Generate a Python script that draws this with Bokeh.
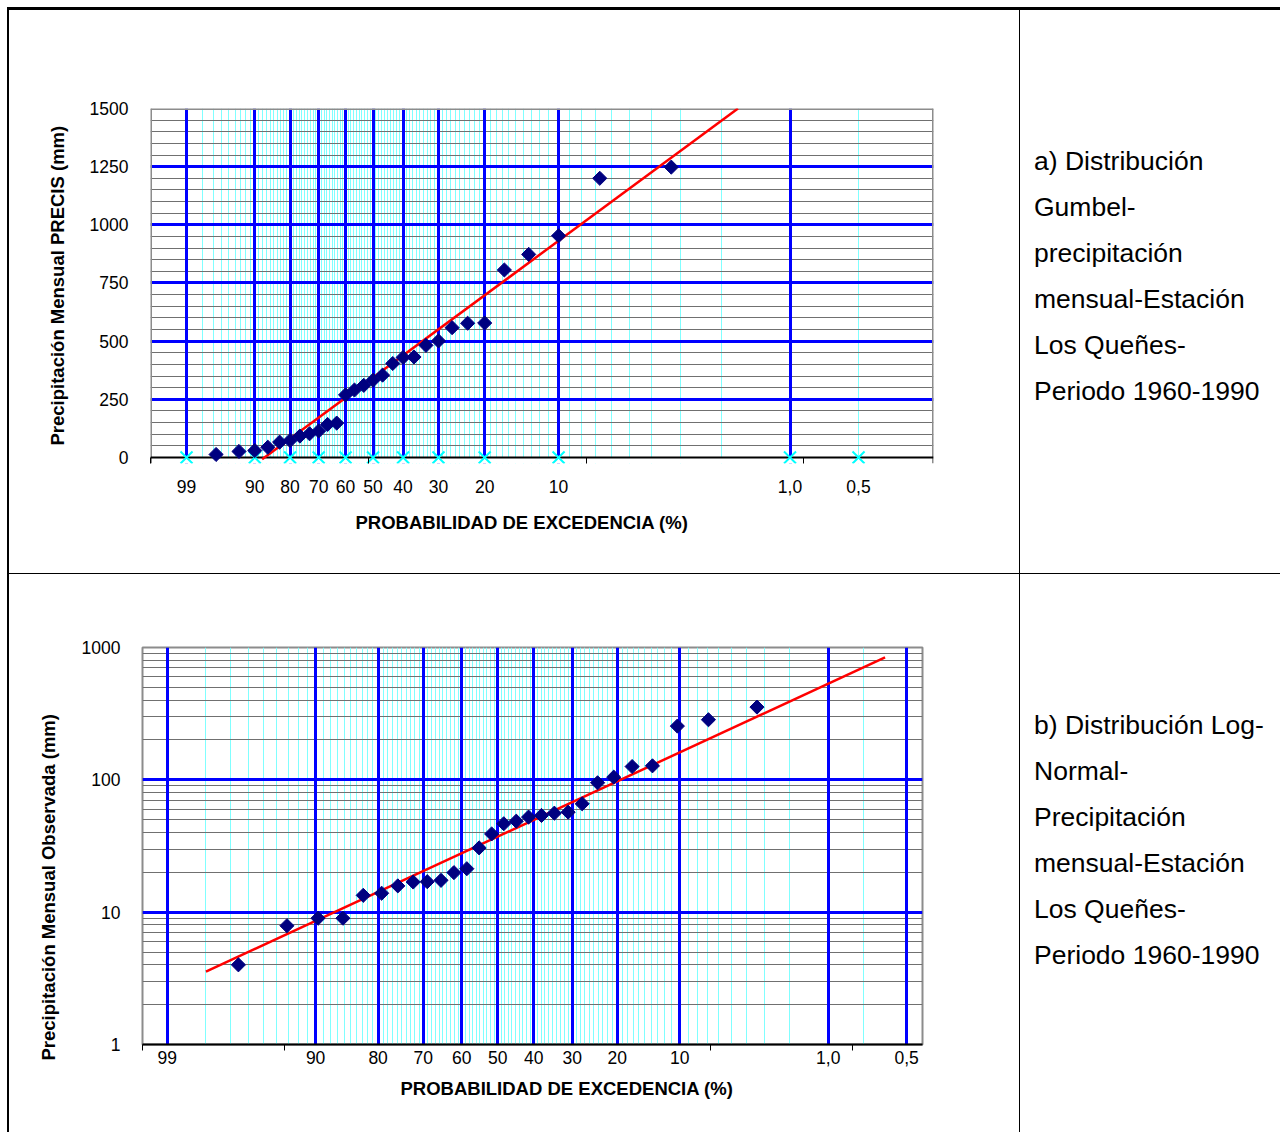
import math
from statistics import NormalDist
from bokeh.plotting import figure
from bokeh.models import (Range1d, FixedTicker, Grid, Title, Span, BoxAnnotation,
                          Div, NumeralTickFormatter)
from bokeh.layouts import row, column
from bokeh.embed import file_html
from bokeh.resources import INLINE

# ---------------- data: a) Gumbel - PRECIS monthly precipitation ----------------
exc_a = [96.7, 93.3, 90.0, 86.7, 83.3, 80.0, 76.7, 73.3, 70.0, 66.7, 63.3, 60.0,
         56.7, 53.3, 50.0, 46.7, 43.3, 40.0, 36.7, 33.3, 30.0, 26.7, 23.3, 20.0,
         16.7, 13.3, 10.0, 6.7, 3.3]
precip_a = [13, 26, 30, 44, 66, 73, 92, 102, 114, 142, 148, 269, 290, 310, 332,
            354, 404, 430, 432, 482, 501, 558, 577, 578, 806, 873, 953, 1200, 1248]
fit_a_exc = [88.2, 1.69]
fit_a_val = [-8, 1500]

# ---------------- data: b) Log-Normal - observed monthly precipitation ----------
exc_b = [96.6, 93.1, 89.7, 86.2, 82.8, 79.3, 75.9, 72.4, 69.0, 65.5, 62.1, 58.6,
         55.2, 51.7, 48.3, 44.8, 41.4, 37.9, 34.5, 31.0, 27.6, 24.1, 20.7, 17.2,
         13.8, 10.3, 6.9, 3.4]
precip_b = [4.0, 7.9, 9.0, 9.0, 13.4, 13.9, 15.8, 16.9, 17.0, 17.4, 19.9, 21.3,
            30.6, 39.0, 46.6, 48.7, 52.3, 53.8, 56.0, 57.0, 65.9, 95.0, 104.8,
            126.0, 127.6, 254.7, 284.6, 354.6]
fit_b_exc = [98.0, 0.32]
fit_b_val = [3.56, 841]

# ---------------- probability paper (axis labels / grid) ----------------
label_txt = ["99", "90", "80", "70", "60", "50", "40", "30", "20", "10", "1,0", "0,5"]
label_exc_a = [99, 90, 80, 70, 60, 50, 40, 30, 20, 10, 1.0, 0.5]
blue_exc_a = [99, 90, 80, 70, 60, 50, 40, 30, 20, 10, 1.0]
label_exc_b = [99, 90, 80, 70, 60, 50, 40, 30, 20, 10, 1.0, 0.2]
blue_exc_b = label_exc_b
cyan_exc = [p for p in range(2, 99) if p % 10] + [0.5]

yticks_a = [0, 250, 500, 750, 1000, 1250, 1500]
yblue_a = [250, 500, 750, 1000, 1250]
ygray_a = [v for v in range(50, 1500, 50) if v % 250]
yticks_b = [1, 10, 100, 1000]
yblue_b = [10, 100]
ygray_b = [k * 10 ** d for d in range(3) for k in range(2, 10)]

xtitle = "PROBABILIDAD DE EXCEDENCIA (%)"
ytitle_a = "Precipitación Mensual PRECIS (mm)"
ytitle_b = "Precipitación Mensual Observada (mm)"
text_a = ["a) Distribución", "Gumbel-", "precipitación", "mensual-Estación",
          "Los Queñes-", "Periodo 1960-1990"]
text_b = ["b) Distribución Log-", "Normal-", "Precipitación", "mensual-Estación",
          "Los Queñes-", "Periodo 1960-1990"]


def gumbel(p):
    return -math.log(-math.log(1 - p / 100.0))


ND = NormalDist()


def normq(p):
    return ND.inv_cdf(1 - p / 100.0)


FONT = "Liberation Sans"
BLUE = "#0000ff"
CYAN = "#80ffff"
GRAY = "#707070"
BORDER = "#8c8c8c"


def add_grid(p, dim, ticks, color, width):
    p.add_layout(Grid(dimension=dim, ticker=FixedTicker(ticks=ticks),
                      grid_line_color=color, grid_line_width=width))


def style(p, xpos, xtxt, xminor, yt, xstand):
    p.background_fill_color = "white"
    p.border_fill_color = "white"
    p.outline_line_color = BORDER
    p.outline_line_width = 2
    p.xgrid.grid_line_color = None
    p.ygrid.grid_line_color = None
    xa = p.xaxis[0]
    xa.ticker = FixedTicker(ticks=xpos, minor_ticks=xminor)
    xa.major_label_overrides = dict(zip(xpos, xtxt))
    xa.major_tick_out = 0
    xa.major_tick_in = 0
    xa.minor_tick_out = 6
    xa.minor_tick_in = 0
    xa.minor_tick_line_color = "#000000"
    xa.axis_line_color = "#000000"
    xa.axis_line_width = 2
    xa.major_label_standoff = xstand
    xa.major_label_text_font = FONT
    xa.major_label_text_font_size = "17.5px"
    xa.major_label_text_color = "#000000"
    ya = p.yaxis[0]
    ya.ticker = FixedTicker(ticks=yt)
    ya.formatter = NumeralTickFormatter(format="0")
    ya.major_tick_out = 0
    ya.major_tick_in = 0
    ya.minor_tick_line_color = None
    ya.axis_line_color = None
    ya.major_label_standoff = 22
    ya.major_label_text_font = FONT
    ya.major_label_text_font_size = "17.5px"
    ya.major_label_text_color = "#000000"


def side_title(p, text, side, offset, standoff, valign):
    p.add_layout(Title(text=text, align="left", offset=offset, standoff=standoff,
                       vertical_align=valign, text_font=FONT, text_font_size="18.5px",
                       text_font_style="bold", text_color="#000000"), side)


# ---------------- chart a (Gumbel paper) ----------------
pa = figure(width=1010, height=563, x_range=Range1d(-1.893, 6.057),
            y_range=Range1d(-25.8, 1500), output_backend="svg", toolbar_location=None,
            min_border_left=141, min_border_right=86, min_border_top=98,
            min_border_bottom=110)
style(pa, [gumbel(v) for v in label_exc_a], label_txt, [-1.893, 0.32, 2.53, 4.74],
      yticks_a, 16)
pa.outline_line_color = None
xa = pa.xaxis[0]
xa.axis_line_color = None
xa.minor_tick_out = 0
xa.minor_tick_in = 6
add_grid(pa, 0, [gumbel(v) for v in cyan_exc], CYAN, 1)
add_grid(pa, 1, ygray_a, GRAY, 1)
add_grid(pa, 0, [gumbel(v) for v in blue_exc_a], BLUE, 3)
add_grid(pa, 1, yblue_a, BLUE, 3)
pa.add_layout(BoxAnnotation(top=0, fill_color="white", fill_alpha=1.0, line_color=None,
                            level="underlay"))
pa.add_layout(Span(location=1500, dimension="width", line_color=BORDER, line_width=3,
                   level="underlay"))
pa.add_layout(Span(location=pa.x_range.start, dimension="height", line_color=BORDER,
                   line_width=3, level="underlay"))
pa.add_layout(Span(location=pa.x_range.end, dimension="height", line_color=BORDER,
                   line_width=3, level="underlay"))
pa.add_layout(Span(location=0, dimension="width", line_color="#000000", line_width=2,
                   level="underlay"))
pa.line(x=[gumbel(v) for v in fit_a_exc], y=fit_a_val, line_color="#ff0000", line_width=2.5)
pa.scatter(x=[gumbel(v) for v in label_exc_a], y=[0] * len(label_exc_a), marker="x",
           size=17, line_color="#00ffff", line_width=2)
pa.scatter(x=[gumbel(v) for v in exc_a], y=precip_a, marker="square", angle=math.pi / 4,
           size=10, fill_color="#000080", line_color="#000080")
side_title(pa, ytitle_a, "left", 18, 37, "bottom")
side_title(pa, xtitle, "below", 205, 33, "top")

# ---------------- chart b (normal paper, log values) ----------------
pb = figure(width=1010, height=558, x_range=Range1d(-2.5, 2.99),
            y_range=Range1d(1, 1000), y_axis_type="log", output_backend="svg",
            toolbar_location=None, min_border_left=133, min_border_right=97,
            min_border_top=73, min_border_bottom=88)
style(pb, [normq(v) for v in label_exc_b], label_txt, [-2.5, -1.5, 1.5, 2.5], yticks_b, 0)
add_grid(pb, 0, [normq(v) for v in cyan_exc], CYAN, 1)
add_grid(pb, 1, ygray_b, GRAY, 1)
add_grid(pb, 0, [normq(v) for v in blue_exc_b], BLUE, 3)
add_grid(pb, 1, yblue_b, BLUE, 3)
pb.line(x=[normq(v) for v in fit_b_exc], y=fit_b_val, line_color="#ff0000", line_width=2.5)
pb.scatter(x=[normq(v) for v in exc_b], y=precip_b, marker="square", angle=math.pi / 4,
           size=10, fill_color="#000080", line_color="#000080")
side_title(pb, ytitle_b, "left", -16, 39, "bottom")
side_title(pb, xtitle, "below", 258, 23, "top")


# ---------------- table layout ----------------
def bar(w, h):
    return Div(text="", width=w, height=h, margin=0,
               styles={"background-color": "#000000"})


def cell(lines, h):
    html = ('<div style="padding:128px 0 0 14px;font-family:\'Liberation Sans\',Arial,'
            'sans-serif;font-size:26.5px;line-height:46px;color:#000;white-space:nowrap">'
            + "<br>".join(lines) + "</div>")
    return Div(text=html, width=260, height=h, margin=0)


rowA = row(pa, bar(1, 563), cell(text_a, 563))
rowB = row(pb, bar(1, 558), cell(text_b, 558))
right = column(rowA, bar(1271, 1), rowB)
body = row(bar(2, 1122), right)
page = column(bar(1273, 3), body, margin=(7, 0, 0, 7))

open("out.html", "w").write(file_html(page, INLINE))
